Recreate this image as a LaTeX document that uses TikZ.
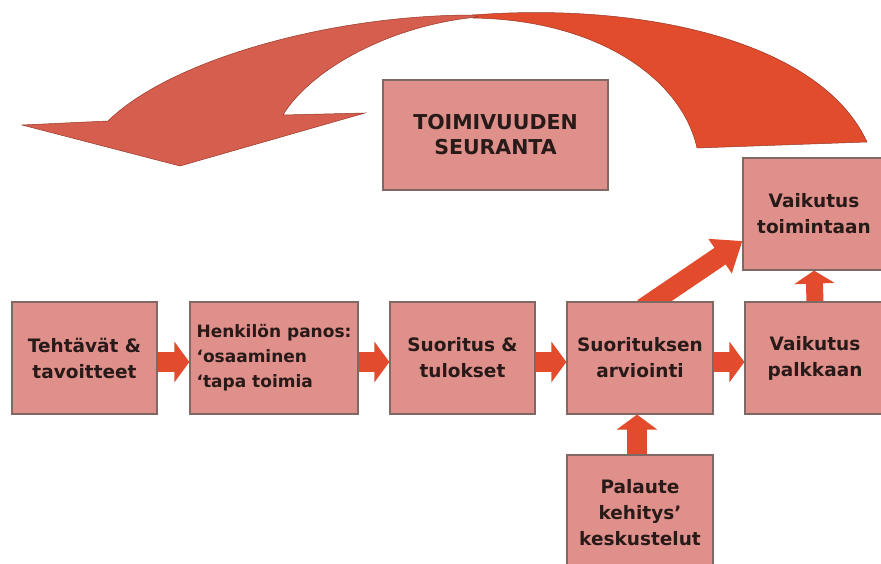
\documentclass[tikz,border=0pt]{standalone}
\usepackage{fontspec}
\setmainfont{DejaVu Sans}
\usetikzlibrary{arrows.meta,backgrounds}

\definecolor{boxfill}{RGB}{224,144,138}
\definecolor{boxline}{RGB}{128,104,100}
\definecolor{arrowred}{RGB}{226,76,44}
\definecolor{bendleft}{RGB}{214,94,78}
\definecolor{bendright}{RGB}{224,76,44}
\definecolor{bendline}{RGB}{150,56,40}
\definecolor{textdark}{RGB}{40,26,24}

\begin{document}
\begin{tikzpicture}[x=1pt,y=-1pt,
		blockarrow/.style={line width=20pt,draw=arrowred,-{Triangle[width=40pt,length=15pt]}}]
	\useasboundingbox (0,0) rectangle (881,564);
	\begin{scope}[every node/.style={draw=boxline,fill=boxfill,line width=1.2pt,align=center,text=textdark,
				font=\fontsize{18.5}{26}\selectfont\bfseries,minimum height=112pt,inner sep=2pt}]
		% Main row
		\node[minimum width=145pt] (tehtavat)  at (84.5,358) {Tehtävät \&\\tavoitteet};
		\node[minimum width=168pt,align=left,font=\fontsize{17}{25}\selectfont\bfseries] (henkilo) at (274,358) {Henkilön panos:\\`osaaminen\\`tapa toimia};
		\node[minimum width=145pt] (suoritus)  at (462.5,358) {Suoritus \&\\tulokset};
		\node[minimum width=146pt] (arviointi) at (640,358) {Suorituksen\\arviointi};
		\node[minimum width=140pt] (palkkaan)  at (815,358) {Vaikutus\\palkkaan};

		% Above and below
		\node[minimum width=142pt] (toimintaan) at (814,214) {Vaikutus\\toimintaan};
		\node[minimum width=146pt,minimum height=116pt] (palaute) at (640,513) {Palaute\\kehitys'\\keskustelut};
		\node[minimum width=225pt,minimum height=110pt,font=\fontsize{20.5}{25}\selectfont\bfseries] (seuranta) at (495.5,135) {TOIMIVUUDEN\\SEURANTA};
	\end{scope}

	% Block arrows between the boxes
	\begin{pgfonlayer}{background}
		\draw[blockarrow] ([yshift=-4pt]tehtavat.east) -- ([yshift=-4pt]henkilo.west);
		\draw[blockarrow] ([yshift=-4pt]henkilo.east) -- ([yshift=-4pt]suoritus.west);
		\draw[blockarrow] ([yshift=-4pt]suoritus.east) -- ([yshift=-4pt]arviointi.west);
		\draw[blockarrow] ([yshift=-4pt]arviointi.east) -- ([yshift=-4pt]palkkaan.west);
		\draw[blockarrow] ([xshift=-3pt]palaute.north) -- ([xshift=-3pt]arviointi.south);
		\draw[blockarrow,line width=17pt,-{Triangle[width=40pt,length=13pt]}] ([xshift=0pt]palkkaan.north) -- ([xshift=0pt]toimintaan.south);
		\draw[blockarrow,-{Triangle[width=40pt,length=27pt]}] ([xshift=3pt,yshift=-7pt]arviointi.north) -- ([yshift=-27pt]toimintaan.west);
	\end{pgfonlayer}

	% Bent arrow over the top
	\fill[bendright,draw=bendline,line width=0.5pt]
		(473,15) .. controls (640,2) and (820,40) .. (867,142)
		-- (697,148) .. controls (682,80) and (600,20) .. (473,18) -- cycle;
	\fill[bendleft,draw=bendline,line width=0.5pt]
		(473,15) .. controls (330,15) and (170,60) .. (108,121)
		-- (22,125) -- (180,166) -- (365,113) -- (283,115)
		.. controls (310,70) and (390,25) .. (478,17) -- cycle;
\end{tikzpicture}
\end{document}
